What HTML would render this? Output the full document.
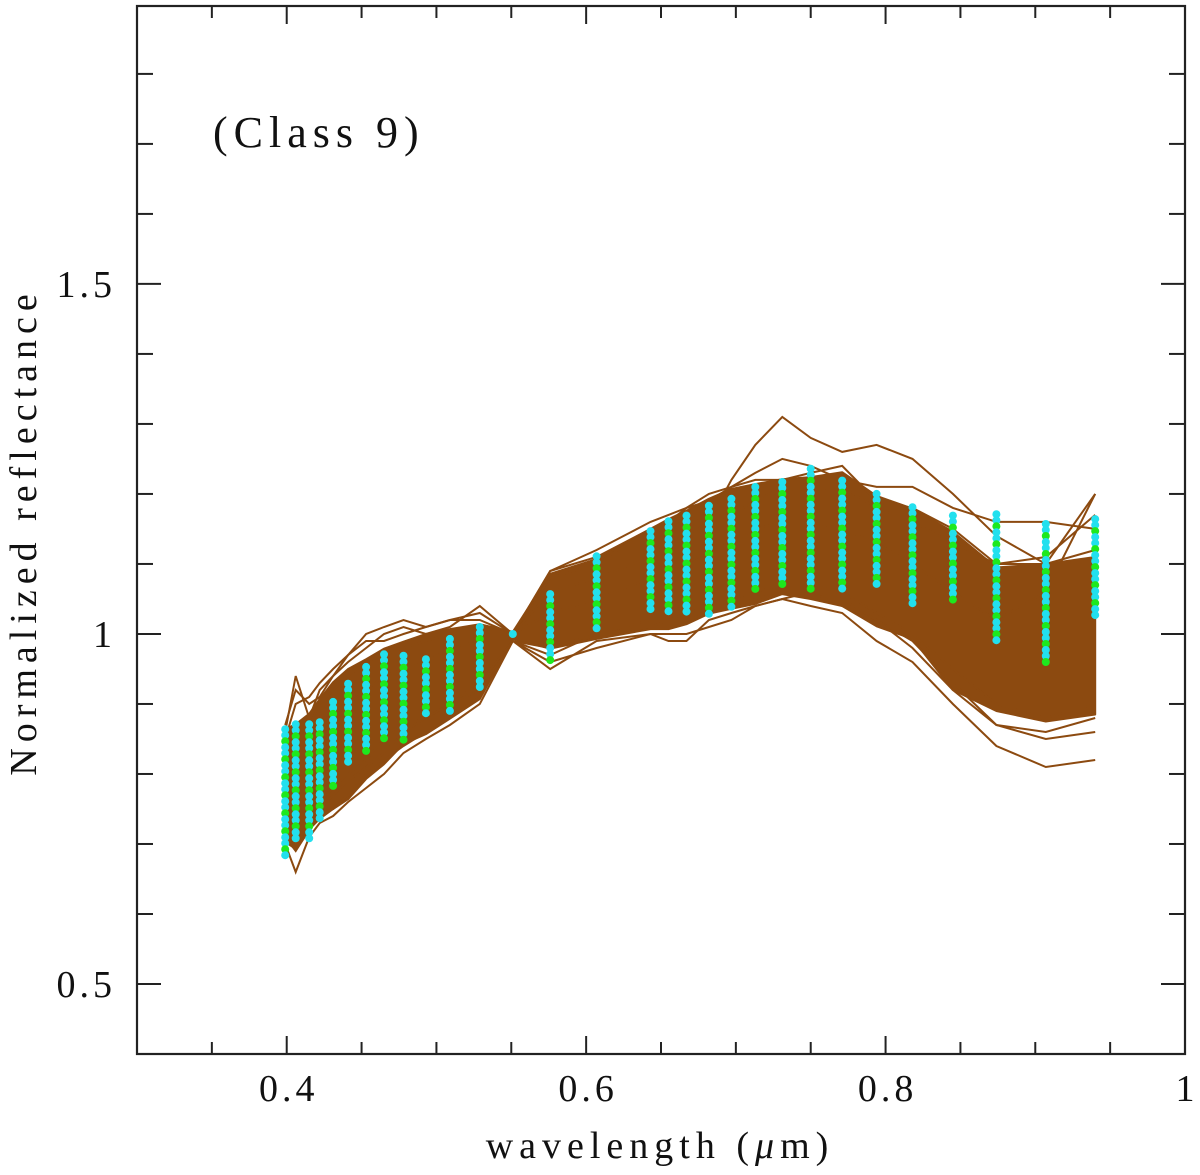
<!DOCTYPE html>
<html><head><meta charset="utf-8"><style>
html,body{margin:0;padding:0;background:#fff;}
svg{display:block;}
text{font-family:"Liberation Serif",serif;fill:#111;}
</style></head><body>
<svg id="chart" width="1200" height="1175" viewBox="0 0 1200 1175" xmlns="http://www.w3.org/2000/svg">
<g id="band"></g>
<g id="lines"></g>
<g id="dots"></g>
<g id="axes"></g>
<text x="213" y="147" font-size="44" letter-spacing="6">(Class 9)</text>
<text transform="translate(36,532) rotate(-90)" text-anchor="middle" font-size="38" letter-spacing="6">Normalized reflectance</text>
<text x="660" y="1158" text-anchor="middle" font-size="38" letter-spacing="6">wavelength (<tspan font-style="italic">μ</tspan>m)</text>
</svg>
<script>
const wavelengths=[0.399,0.406,0.415,0.422,0.431,0.441,0.453,0.465,0.478,0.493,0.509,0.529,0.551,0.576,0.607,0.643,0.655,0.667,0.682,0.697,0.713,0.731,0.750,0.771,0.794,0.818,0.845,0.874,0.907,0.940];
const bandUpper=[.864,.871,.886,.907,.931,.95,.964,.979,.989,1.0,1.007,1.014,1.003,1.086,1.107,1.15,1.164,1.176,1.193,1.207,1.214,1.221,1.224,1.231,1.197,1.179,1.146,1.095,1.1,1.11];
const bandLower=[.703,.693,.721,.736,.75,.764,.793,.814,.843,.857,.879,.907,.993,.979,.993,1.007,1.007,1.014,1.029,1.036,1.043,1.057,1.05,1.04,1.011,.993,.92,.89,.875,.885];
const curve1=[.86,.94,.88,.92,.94,.96,.98,1.0,1.01,1.0,1.01,1.04,1.0,1.08,1.10,1.15,1.14,1.17,1.16,1.22,1.27,1.31,1.28,1.26,1.27,1.25,1.20,1.14,1.10,1.20];
const curve2=[.85,.90,.91,.93,.95,.97,1.0,1.01,1.02,1.01,1.02,1.02,1.0,1.09,1.12,1.16,1.17,1.18,1.20,1.21,1.23,1.25,1.24,1.22,1.21,1.21,1.18,1.16,1.16,1.15];
const curve3=[.70,.66,.71,.73,.74,.76,.78,.80,.83,.85,.87,.90,.99,.95,.99,1.0,.99,.99,1.02,1.03,1.04,1.05,1.04,1.03,.99,.96,.90,.84,.81,.82];
const curve4=[.71,.69,.72,.74,.75,.77,.80,.82,.84,.86,.88,.91,.99,.96,.98,1.0,1.0,1.0,1.01,1.02,1.04,1.05,1.06,1.04,1.02,.99,.93,.87,.85,.86];
const curve5=[.80,.82,.84,.86,.88,.90,.92,.94,.95,.96,.98,.99,1.0,1.03,1.05,1.08,1.09,1.10,1.12,1.13,1.15,1.16,1.16,1.15,1.13,1.10,1.06,1.02,1.06,1.20];
const curve6=[.83,.85,.87,.90,.92,.94,.96,.97,.98,.99,1.00,1.01,1.0,1.06,1.08,1.11,1.13,1.14,1.16,1.17,1.19,1.21,1.20,1.21,1.18,1.16,1.13,1.10,1.11,1.17];
const curve7=[.72,.70,.73,.75,.77,.79,.81,.83,.86,.88,.90,.92,.99,.97,1.0,1.02,1.02,1.03,1.04,1.05,1.06,1.07,1.07,1.06,1.03,1.0,.95,.90,.88,.90];
const curve8=[.74,.72,.74,.76,.78,.80,.82,.85,.87,.88,.90,.93,.99,.98,1.0,1.01,1.02,1.02,1.03,1.04,1.05,1.06,1.06,1.05,1.02,.98,.92,.87,.86,.88];
const curve9=[.87,.92,.90,.91,.94,.97,.99,.99,1.0,1.01,1.02,1.03,1.0,1.09,1.11,1.15,1.16,1.18,1.19,1.21,1.22,1.22,1.23,1.24,1.19,1.18,1.15,1.10,1.10,1.12];
const dotTop=[.864,.871,.871,.874,.903,.929,.953,.971,.969,.964,.993,1.01,1.0,1.057,1.111,1.147,1.161,1.169,1.183,1.193,1.21,1.217,1.236,1.219,1.2,1.181,1.169,1.171,1.157,1.164];
const dotBottom=[.683,.70,.704,.736,.779,.81,.833,.843,.847,.886,.886,.919,.993,.957,1.007,1.033,1.029,1.029,1.021,1.033,1.064,1.064,1.064,1.061,1.071,1.04,1.044,.986,.957,1.026];
const xTicks=[0.4,0.6,0.8,1.0];
const xTickLabels=["0.4","0.6","0.8","1"];
const yTicks=[0.5,1.0,1.5];
const yTickLabels=["0.5","1","1.5"];

const L=137,R=1185,T=6,B=1054,X0=0.3,X1=1.0,Y0=0.4,Y1=1.897;
const xs=w=>L+(w-X0)/(X1-X0)*(R-L);
const ys=v=>B-(v-Y0)/(Y1-Y0)*(B-T);
const NS="http://www.w3.org/2000/svg";
function mk(tag,parent,attrs){const e=document.createElementNS(NS,tag);for(const k in attrs)e.setAttribute(k,attrs[k]);parent.appendChild(e);return e;}
const BROWN="#8c4a10";
let d="";
wavelengths.forEach((w,i)=>{d+=(i?"L":"M")+xs(w).toFixed(1)+","+ys(bandUpper[i]).toFixed(1);});
for(let i=wavelengths.length-1;i>=0;i--)d+="L"+xs(wavelengths[i]).toFixed(1)+","+ys(bandLower[i]).toFixed(1);
const band=mk("path",document.getElementById("band"),{d:d+"Z",fill:BROWN,stroke:BROWN,"stroke-width":2,"stroke-linejoin":"round"});


[curve1,curve2,curve3,curve4,curve5,curve6,curve7,curve8,curve9].forEach((c,k)=>{
  const p=mk("polyline",document.getElementById("lines"),{points:wavelengths.map((w,i)=>xs(w).toFixed(1)+","+ys(c[i]).toFixed(1)).join(" "),fill:"none",stroke:BROWN,"stroke-width":2});
  
  
});
const dg=document.getElementById("dots");
wavelengths.forEach((w,i)=>{
  const x=xs(w),y1=ys(dotTop[i]),y2=ys(dotBottom[i]);
  let n=0;
  for(let y=y1;y<=y2+0.1;y+=6){
    const c=mk("circle",dg,{cx:x.toFixed(1),cy:y.toFixed(1),r:4,fill:(n%3===2)?"#1ee81e":"#22e0ee"});
    
    
    n++;
  }
});
const ax=document.getElementById("axes");
const fr=mk("rect",ax,{x:L,y:T,width:R-L,height:B-T,fill:"none",stroke:"#222","stroke-width":2.2});


for(let k=0;k<=14;k++){const w=0.3+k*0.05;const x=xs(w);const maj=(k%4===2)||k===14;const len=maj?18:12;
  mk("line",ax,{x1:x,y1:B,x2:x,y2:B-len,stroke:"#222","stroke-width":2});
  mk("line",ax,{x1:x,y1:T,x2:x,y2:T+len,stroke:"#222","stroke-width":2});}
for(let k=1;k<=14;k++){const v=0.4+k*0.1;const y=ys(v);const maj=(k===1||k===6||k===11);const len=maj?24:16;
  mk("line",ax,{x1:L,y1:y,x2:L+len,y2:y,stroke:"#222","stroke-width":2});
  mk("line",ax,{x1:R,y1:y,x2:R-len,y2:y,stroke:"#222","stroke-width":2});}
xTicks.forEach((w,i)=>{const t=mk("text",ax,{x:xs(w)+2,y:1101,"text-anchor":"middle","font-size":38,"letter-spacing":4});t.textContent=xTickLabels[i];
  
  });
yTicks.forEach((v,i)=>{const t=mk("text",ax,{x:116,y:ys(v)+13,"text-anchor":"end","font-size":38,"letter-spacing":4});t.textContent=yTickLabels[i];
  
  });
</script>
</body></html>
